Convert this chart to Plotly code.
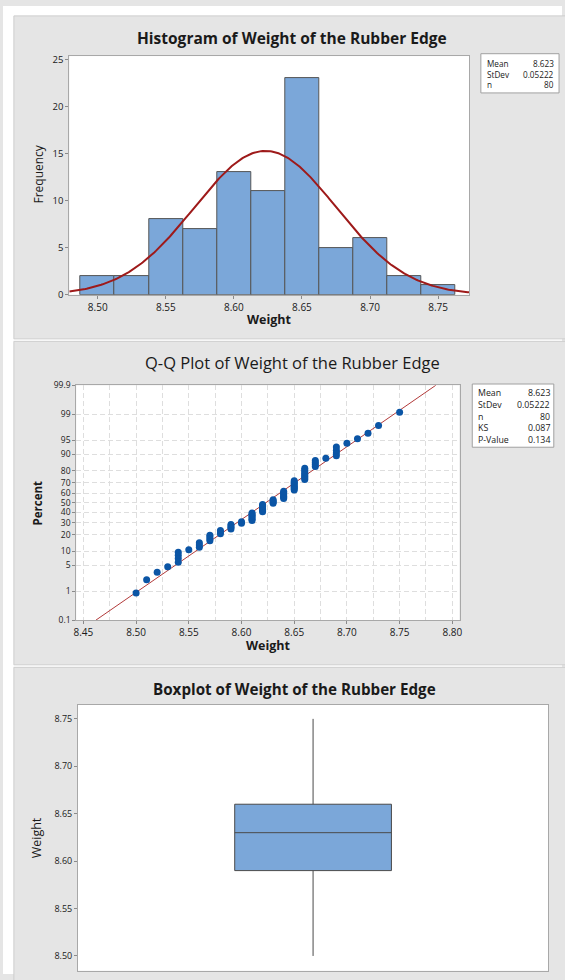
import plotly.graph_objects as go
from statistics import NormalDist, mean, stdev

# ---------------- data ----------------
weight_values = [8.50, 8.51, 8.52, 8.53, 8.54, 8.55, 8.56, 8.57, 8.58, 8.59,
                 8.60, 8.61, 8.62, 8.63, 8.64, 8.65, 8.66, 8.67, 8.68, 8.69,
                 8.70, 8.71, 8.72, 8.73, 8.75]
weight_counts = [1, 1, 1, 1, 4, 1, 3, 4, 3, 4,
                 2, 7, 7, 4, 7, 8, 8, 4, 1, 4,
                 1, 1, 1, 1, 1]

hist_bin_start = 8.4875
hist_bin_end = 8.7625
hist_bin_size = 0.025

hist_stat_labels = ["Mean", "StDev", "n"]
hist_stat_values = ["8.623", "0.05222", "80"]
qq_stat_labels = ["Mean", "StDev", "n", "KS", "P-Value"]
qq_stat_values = ["8.623", "0.05222", "80", "0.087", "0.134"]

hist_x_ticks = [8.50, 8.55, 8.60, 8.65, 8.70, 8.75]
hist_y_ticks = [0, 5, 10, 15, 20, 25]
qq_x_ticks = [8.45, 8.50, 8.55, 8.60, 8.65, 8.70, 8.75, 8.80]
qq_percent_ticks = [0.1, 1, 5, 10, 20, 30, 40, 50, 60, 70, 80, 90, 95, 99, 99.9]
qq_percent_labels = ["0.1", "1", "5", "10", "20", "30", "40", "50", "60", "70",
                     "80", "90", "95", "99", "99.9"]
box_y_ticks = [8.50, 8.55, 8.60, 8.65, 8.70, 8.75]

titles = ["Histogram of Weight of the Rubber Edge",
          "Q-Q Plot of Weight of the Rubber Edge",
          "Boxplot of Weight of the Rubber Edge"]

# ---------------- derived ----------------
weights = [v for v, c in zip(weight_values, weight_counts) for _ in range(c)]
n = len(weights)
mu = mean(weights)
sd = stdev(weights)
nd = NormalDist()
fit = NormalDist(mu, sd)

W, H = 565, 980
def px(x):
    return x / W
def py(y):
    return 1 - y / H

FONT = "Open Sans, Noto Sans, DejaVu Sans, sans-serif"
TXT = "#1a1a1a"
FRAME = "#a8a8a8"
BLUE = "#7ba7d9"
EDGE = "#555555"
GRID = "#dedede"

fig = go.Figure()

# ---- histogram ----
fig.add_trace(go.Histogram(
    x=weights, xbins=dict(start=hist_bin_start, end=hist_bin_end, size=hist_bin_size),
    marker=dict(color=BLUE, line=dict(color=EDGE, width=1)),
    xaxis="x", yaxis="y", hoverinfo="skip"))

hx_range = [8.4791, 8.7727]
curve_x = [hx_range[0] + (hx_range[1] - hx_range[0]) * i / 300 for i in range(301)]
curve_y = [n * hist_bin_size * fit.pdf(x) for x in curve_x]
fig.add_trace(go.Scatter(x=curve_x, y=curve_y, mode="lines",
                         line=dict(color="#9e1a1a", width=2),
                         xaxis="x", yaxis="y", hoverinfo="skip"))

# ---- Q-Q (normal probability) plot ----
sw = sorted(weights)
qq_z = [nd.inv_cdf((i + 1 - 0.3) / (n + 0.4)) for i in range(n)]
z_lo, z_hi = nd.inv_cdf(0.001), nd.inv_cdf(0.999)
fig.add_trace(go.Scatter(x=[mu + z_lo * sd, mu + z_hi * sd], y=[z_lo, z_hi],
                         mode="lines", line=dict(color="#b23a3a", width=1),
                         xaxis="x2", yaxis="y2", hoverinfo="skip"))
fig.add_trace(go.Scatter(x=sw, y=qq_z, mode="markers",
                         marker=dict(color="#0b55a5", size=7),
                         xaxis="x2", yaxis="y2", hoverinfo="skip"))

# ---- boxplot ----
fig.add_trace(go.Box(y=weights, x0=0, width=1.0, boxpoints=False, whiskerwidth=0,
                     fillcolor=BLUE, line=dict(color="#4a4a4a", width=1),
                     xaxis="x3", yaxis="y3", hoverinfo="skip"))

tickfont = dict(family=FONT, size=9.5, color=TXT)
common = dict(showline=True, mirror=True, linecolor=FRAME, linewidth=1,
              ticks="outside", ticklen=3, tickcolor="#8a8a8a", zeroline=False,
              tickfont=tickfont, fixedrange=True)

fig.update_layout(
    width=W, height=H, margin=dict(l=0, r=0, t=0, b=0),
    paper_bgcolor="#e5e5e5", plot_bgcolor="white",
    showlegend=False, bargap=0,
    font=dict(family=FONT, color=TXT),
    xaxis=dict(domain=[px(67), px(471)], anchor="y", range=hx_range,
               tickmode="array", tickvals=hist_x_ticks,
               ticktext=[f"{v:.2f}" for v in hist_x_ticks], showgrid=False,
               **{**common, "tickfont": dict(family=FONT, size=10, color=TXT)}),
    yaxis=dict(domain=[py(292.3), py(50.7)], anchor="x", range=[0, 25.38],
               tickmode="array", tickvals=hist_y_ticks, showgrid=False, **common),
    xaxis2=dict(domain=[px(74), px(461.4)], anchor="y2", range=[8.4432, 8.8068],
                tickmode="array", tickvals=qq_x_ticks,
                ticktext=[f"{v:.2f}" for v in qq_x_ticks],
                showgrid=True, gridcolor=GRID, griddash="5px,3px", gridwidth=1,
                minor=dict(tick0=8.45, dtick=0.025, showgrid=True, gridcolor=GRID,
                           griddash="5px,3px", ticks=""),
                **{**common, "tickfont": dict(family=FONT, size=10, color=TXT)}),
    yaxis2=dict(domain=[py(621.7), py(384)], anchor="x2", range=[z_lo, z_hi],
                tickmode="array", tickvals=[nd.inv_cdf(p / 100) for p in qq_percent_ticks],
                ticktext=qq_percent_labels,
                showgrid=True, gridcolor=GRID, griddash="5px,3px", gridwidth=1,
                **{**common, "tickfont": dict(family=FONT, size=8.5, color=TXT)}),
    xaxis3=dict(domain=[px(75.8), px(551)], anchor="y3", range=[-1.5, 1.5],
                showticklabels=False, showgrid=False,
                **{k: v for k, v in common.items() if k not in ("ticks",)}, ticks=""),
    yaxis3=dict(domain=[py(976.7), py(707.7)], anchor="x3", range=[8.4844, 8.7646],
                tickmode="array", tickvals=box_y_ticks,
                ticktext=[f"{v:.2f}" for v in box_y_ticks], showgrid=False,
                **{**common, "tickfont": dict(family=FONT, size=9, color=TXT)}),
)

shapes = []
# white outer strips and gaps between panels
for (x0, y0, x1, y1) in [(0, 0, W, 10), (0, 0, 11, H), (11, 337, W, 339.5), (11, 667, W, 669.5)]:
    shapes.append(dict(type="rect", xref="paper", yref="paper", x0=px(x0), x1=px(x1),
                       y0=py(y1), y1=py(y0), fillcolor="white", line=dict(width=0),
                       layer="below"))
# panel borders
for (y0, y1) in [(10, 337), (339.5, 667), (669.5, 990)]:
    shapes.append(dict(type="rect", xref="paper", yref="paper", x0=px(11), x1=px(570),
                       y0=py(y1), y1=py(y0), fillcolor="rgba(0,0,0,0)",
                       line=dict(color="#cdcdcd", width=1), layer="below"))
# stats boxes
for (x0, y0, x1, y1) in [(483, 48.3, 562, 88), (474.3, 382.7, 556.7, 446.7)]:
    shapes.append(dict(type="rect", xref="paper", yref="paper", x0=px(x0), x1=px(x1),
                       y0=py(y1), y1=py(y0), fillcolor="white",
                       line=dict(color="#a0a0a0", width=1), layer="above"))

ann = []
def text(x, y, s, size, bold=False, xanchor="center", angle=0):
    ann.append(dict(xref="paper", yref="paper", x=px(x), y=py(y), text=(f"<b>{s}</b>" if bold else s),
                    showarrow=False, xanchor=xanchor, yanchor="middle", textangle=angle,
                    font=dict(family=FONT, size=size, color=TXT)))

# titles
text(292, 32, titles[0], 15.5, bold=True)
text(293, 361, titles[1], 16.5)
text(295, 691, titles[2], 15.2, bold=True)
# axis titles
text(269, 317, "Weight", 12.5, bold=True)
text(36, 170, "Frequency", 12, angle=-90)
text(268, 647, "Weight", 12.5, bold=True)
text(35, 503, "Percent", 11.5, bold=True, angle=-90)
text(34, 842, "Weight", 12.5, angle=-90)

# stats text
for i, (lab, val) in enumerate(zip(hist_stat_labels, hist_stat_values)):
    yy = 58.3 + i * 10.6
    text(487.5, yy, lab, 8.2, xanchor="left")
    text(559, yy, val, 8.2, xanchor="right")
for i, (lab, val) in enumerate(zip(qq_stat_labels, qq_stat_values)):
    yy = 392.3 + i * 11.75
    text(478.5, yy, lab, 8.8, xanchor="left")
    text(554.5, yy, val, 8.8, xanchor="right")

fig.update_layout(shapes=shapes, annotations=ann)

fig.write_html("out.html", config=dict(displayModeBar=False),
               post_script="document.body.style.margin='0';document.body.style.overflow='hidden';")
